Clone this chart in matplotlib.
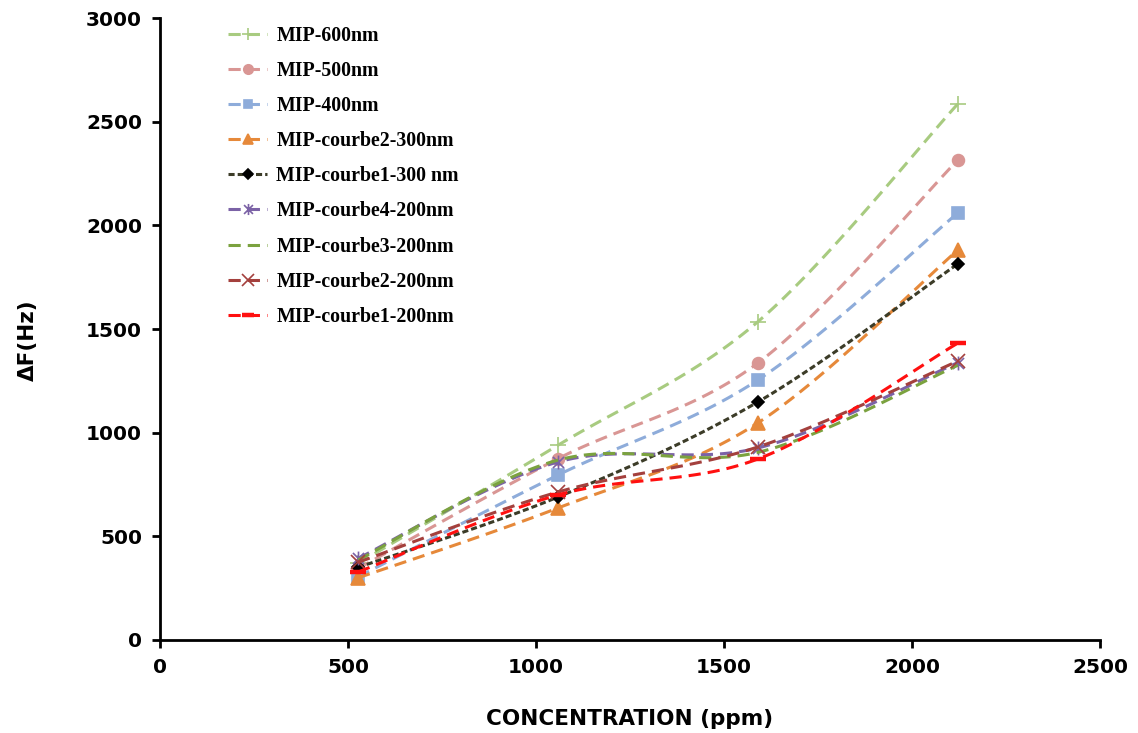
import numpy as np
import matplotlib
matplotlib.use("Agg")
import matplotlib.pyplot as plt
from matplotlib.path import Path

conc = [527, 1059, 1590, 2122]
labels = ["MIP-600nm", "MIP-500nm", "MIP-400nm", "MIP-courbe2-300nm",
          "MIP-courbe1-300 nm", "MIP-courbe4-200nm", "MIP-courbe3-200nm",
          "MIP-courbe2-200nm", "MIP-courbe1-200nm"]
mip600 = [370, 940, 1535, 2586]
mip500 = [345, 875, 1336, 2315]
mip400 = [305, 796, 1254, 2060]
c2_300 = [300, 637, 1047, 1881]
c1_300 = [350, 690, 1148, 1814]
c4_200 = [394, 859, 926, 1338]
c3_200 = [386, 868, 905, 1325]
c2_200 = [375, 714, 931, 1345]
c1_200 = [328, 700, 873, 1432]
series = [mip600, mip500, mip400, c2_300, c1_300, c4_200, c3_200, c2_200, c1_200]

colors = ["#A8CB80", "#D99694", "#8EACDA", "#E6893A", "#3C3C28",
          "#7B62A6", "#7BA23F", "#A4403D", "#FF1010"]

star = Path([(-1, -1), (1, 1), (-1, 1), (1, -1), (0, -1.25), (0, 1.25)],
            [Path.MOVETO, Path.LINETO, Path.MOVETO, Path.LINETO, Path.MOVETO, Path.LINETO])
markers = ["+", "o", "s", "^", "D", star, None, "x", "_"]
msizes = [11, 8.5, 8, 9.5, 6.5, 10, 0, 10, 11]
dashes = [(4, 2.3), (4, 2.3), (4, 2.3), (4, 2.3), (2.0, 1.0), (4, 2.3), (4, 2.3), (4, 2.3), (4, 2.3)]


def smooth(x, y, n=40, t=0.5):
    x = np.asarray(x, float); y = np.asarray(y, float)
    px = np.concatenate([[x[0]], x, [x[-1]]])
    py = np.concatenate([[y[0]], y, [y[-1]]])
    xs, ys = [], []
    for i in range(1, len(px) - 2):
        p0, p1, p2, p3 = (np.array([px[j], py[j]]) for j in range(i - 1, i + 3))
        c1 = p1 + (p2 - p0) * t / 3
        c2 = p2 - (p3 - p1) * t / 3
        s = np.linspace(0, 1, n, endpoint=(i == len(px) - 3))
        b = ((1 - s) ** 3)[:, None] * p1 + (3 * (1 - s) ** 2 * s)[:, None] * c1 \
            + (3 * (1 - s) * s ** 2)[:, None] * c2 + (s ** 3)[:, None] * p2
        xs.append(b[:, 0]); ys.append(b[:, 1])
    return np.concatenate(xs), np.concatenate(ys), n


fig = plt.figure(figsize=(11.38, 7.33), dpi=100)
ax = fig.add_axes([0.1406, 0.1269, 0.8260, 0.8485])

for lab, ys, col, mk, ms, ds in zip(labels, series, colors, markers, msizes, dashes):
    sx, sy, n = smooth(conc, ys)
    kw = {}
    if mk is not None:
        kw = dict(marker=mk, markersize=ms, markevery=[0, n, 2 * n, 3 * n - 1],
                  markerfacecolor=col, markeredgecolor=col, markeredgewidth=1.2)
        if mk == "_":
            kw["markeredgewidth"] = 3.2
        if mk == "D":
            kw["markerfacecolor"] = "black"; kw["markeredgecolor"] = "black"
    ax.plot(sx, sy, color=col, lw=2.2, dashes=ds, label=lab, **kw)

ax.set_xlim(0, 2500)
ax.set_ylim(0, 3000)
ax.set_xticks([0, 500, 1000, 1500, 2000, 2500])
ax.set_yticks([0, 500, 1000, 1500, 2000, 2500, 3000])
for sp in ["top", "right"]:
    ax.spines[sp].set_visible(False)
for sp in ["left", "bottom"]:
    ax.spines[sp].set_linewidth(2)
ax.tick_params(direction="out", width=2, length=6, labelsize=14.5, pad=7)
for lbl in ax.get_xticklabels() + ax.get_yticklabels():
    lbl.set_fontweight("bold")
ax.set_xlabel("CONCENTRATION (ppm)", fontsize=15.5, fontweight="bold", labelpad=23)
ax.set_ylabel("\u0394F(Hz)", fontsize=15.5, fontweight="bold")
ax.yaxis.set_label_coords(-0.130, 0.482)

leg = ax.legend(loc="upper left", bbox_to_anchor=(0.053, 1.016), frameon=False,
                prop={"family": "Liberation Serif", "weight": "bold", "size": 14.3},
                labelspacing=0.76, handlelength=2.0, handletextpad=0.45,
                numpoints=1, markerscale=0.8)

fig.savefig("out.png", dpi=100)
